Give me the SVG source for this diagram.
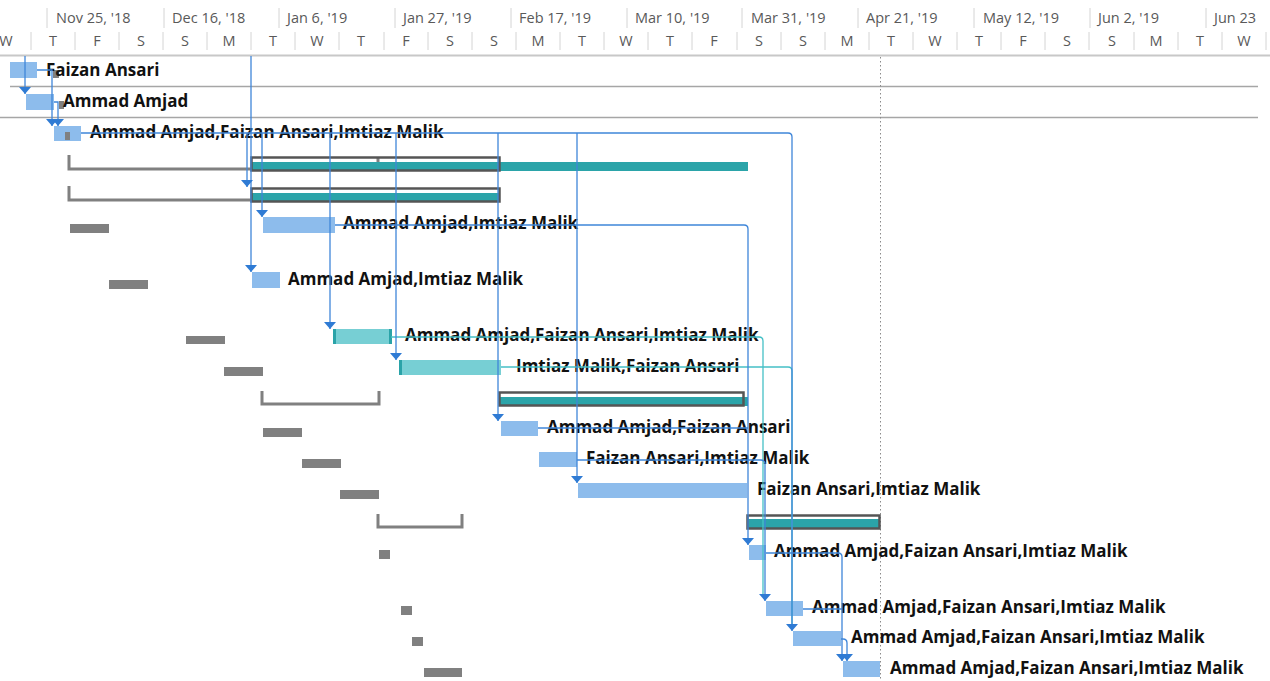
<svg xmlns="http://www.w3.org/2000/svg" width="1270" height="681" viewBox="0 0 1270 681">
  <style>
    .hdr { font-family: "Open Sans", "Liberation Sans", sans-serif; font-size: 14.5px; fill: #595959; }
    .day { text-anchor: middle; }
    .tick { stroke: #d4d4d4; stroke-width: 1; }
    .rowline { stroke: #a6a6a6; stroke-width: 1.5; }
    .lbl { font-family: "Open Sans", "Liberation Sans", sans-serif; font-size: 17px; font-weight: 700; fill: #111; }
    .task { fill: #8dbcec; }
    .crit { fill: #77cfd4; }
    .cap { fill: #2aa3a8; }
    .base { fill: #808080; }
    .sumbar { fill: #2ba4a9; }
    .sumbox { fill: none; stroke: #555; stroke-width: 2.5; }
    .basebr { fill: none; stroke: #808080; stroke-width: 3; }
    .lk { fill: none; stroke: #3f86d9; stroke-width: 1.3; }
    .lkc { fill: none; stroke: #45c0c6; stroke-width: 1.3; }
    .arw { marker-end: url(#arrow); }
  </style>
  <defs>
    <marker id="arrow" viewBox="0 0 7 12" refX="7" refY="6" markerWidth="7" markerHeight="12" markerUnits="userSpaceOnUse" orient="auto">
      <path d="M0,0 L7,6 L0,12 z" fill="#2f7bd4"/>
    </marker>
  </defs>

  <rect width="1270" height="681" fill="#fff"/>

  <!-- timescale -->
  <g id="timescale">
    <g class="tick">
      <line x1="47" y1="8" x2="47" y2="28"/><line x1="164" y1="8" x2="164" y2="28"/>
      <line x1="279" y1="8" x2="279" y2="28"/><line x1="395" y1="8" x2="395" y2="28"/>
      <line x1="511" y1="8" x2="511" y2="28"/><line x1="627" y1="8" x2="627" y2="28"/>
      <line x1="742" y1="8" x2="742" y2="28"/><line x1="858" y1="8" x2="858" y2="28"/>
      <line x1="974" y1="8" x2="974" y2="28"/><line x1="1090" y1="8" x2="1090" y2="28"/>
      <line x1="1206" y1="8" x2="1206" y2="28"/>
    </g>
    <g class="hdr">
      <text x="56" y="23">Nov 25, '18</text>
      <text x="172" y="23">Dec 16, '18</text>
      <text x="287" y="23">Jan 6, '19</text>
      <text x="403" y="23">Jan 27, '19</text>
      <text x="519" y="23">Feb 17, '19</text>
      <text x="635" y="23">Mar 10, '19</text>
      <text x="751" y="23">Mar 31, '19</text>
      <text x="866" y="23">Apr 21, '19</text>
      <text x="983" y="23">May 12, '19</text>
      <text x="1098" y="23">Jun 2, '19</text>
      <text x="1214" y="23">Jun 23</text>
    </g>
    <g class="tick">
      <line x1="31" y1="32" x2="31" y2="50"/><line x1="75" y1="32" x2="75" y2="50"/>
      <line x1="119" y1="32" x2="119" y2="50"/><line x1="163" y1="32" x2="163" y2="50"/>
      <line x1="207" y1="32" x2="207" y2="50"/><line x1="251" y1="32" x2="251" y2="50"/>
      <line x1="295" y1="32" x2="295" y2="50"/><line x1="339" y1="32" x2="339" y2="50"/>
      <line x1="384" y1="32" x2="384" y2="50"/><line x1="428" y1="32" x2="428" y2="50"/>
      <line x1="472" y1="32" x2="472" y2="50"/><line x1="516" y1="32" x2="516" y2="50"/>
      <line x1="560" y1="32" x2="560" y2="50"/><line x1="604" y1="32" x2="604" y2="50"/>
      <line x1="648" y1="32" x2="648" y2="50"/><line x1="692" y1="32" x2="692" y2="50"/>
      <line x1="737" y1="32" x2="737" y2="50"/><line x1="781" y1="32" x2="781" y2="50"/>
      <line x1="825" y1="32" x2="825" y2="50"/><line x1="869" y1="32" x2="869" y2="50"/>
      <line x1="913" y1="32" x2="913" y2="50"/><line x1="957" y1="32" x2="957" y2="50"/>
      <line x1="1001" y1="32" x2="1001" y2="50"/><line x1="1045" y1="32" x2="1045" y2="50"/>
      <line x1="1089" y1="32" x2="1089" y2="50"/><line x1="1134" y1="32" x2="1134" y2="50"/>
      <line x1="1178" y1="32" x2="1178" y2="50"/><line x1="1222" y1="32" x2="1222" y2="50"/>
      <line x1="1266" y1="32" x2="1266" y2="50"/>
    </g>
    <g class="hdr day">
      <text x="6" y="46">W</text>
      <text x="53" y="46">T</text><text x="97" y="46">F</text><text x="141" y="46">S</text>
      <text x="185" y="46">S</text><text x="229" y="46">M</text><text x="273" y="46">T</text>
      <text x="317" y="46">W</text><text x="361" y="46">T</text><text x="406" y="46">F</text>
      <text x="450" y="46">S</text><text x="494" y="46">S</text><text x="538" y="46">M</text>
      <text x="582" y="46">T</text><text x="626" y="46">W</text><text x="670" y="46">T</text>
      <text x="714" y="46">F</text><text x="759" y="46">S</text><text x="803" y="46">S</text>
      <text x="847" y="46">M</text><text x="891" y="46">T</text><text x="935" y="46">W</text>
      <text x="979" y="46">T</text><text x="1023" y="46">F</text><text x="1067" y="46">S</text>
      <text x="1112" y="46">S</text><text x="1156" y="46">M</text><text x="1200" y="46">T</text>
      <text x="1244" y="46">W</text>
    </g>
    <line x1="0" y1="55.5" x2="1270" y2="55.5" stroke="#c8c8c8" stroke-width="2"/>
  </g>

  <!-- grid -->
  <g id="grid">
    <line class="rowline" x1="10" y1="86.5" x2="1258" y2="86.5"/>
    <line class="rowline" x1="0" y1="117.5" x2="1258" y2="117.5"/>
    <line x1="880.5" y1="57" x2="880.5" y2="681" stroke="#8a8a8a" stroke-width="1" stroke-dasharray="1.5 2.5"/>
  </g>

  <!-- tasks -->
  <g id="task-1">
    <rect class="task" x="10" y="62" width="27" height="16"/>
    <rect class="base" x="53" y="70" width="6" height="8"/>
    <text class="lbl" x="46" y="76">Faizan Ansari</text>
  </g>
  <g id="task-2">
    <rect class="task" x="26" y="94" width="28" height="16"/>
    <rect class="base" x="59" y="101" width="5" height="8"/>
    <text class="lbl" x="63" y="107">Ammad Amjad</text>
  </g>
  <g id="task-3">
    <rect class="task" x="54" y="126" width="27" height="15"/>
    <rect class="base" x="65" y="132" width="5" height="8"/>
    <text class="lbl" x="90" y="138">Ammad Amjad,Faizan Ansari,Imtiaz Malik</text>
  </g>
  <g id="summary-4">
    <path class="basebr" d="M69,155 V169 H378 V157"/>
    <rect class="sumbar" x="251" y="162" width="497" height="9"/>
    <rect class="sumbox" x="251.5" y="157.5" width="248" height="13"/>
  </g>
  <g id="summary-5">
    <path class="basebr" d="M69,186 V200 H251"/>
    <rect class="sumbar" x="251" y="193" width="249" height="9"/>
    <rect class="sumbox" x="251.5" y="188.5" width="248" height="13"/>
  </g>
  <g id="task-6">
    <rect class="task" x="263" y="217" width="72" height="16"/>
    <rect class="base" x="70" y="224" width="39" height="9"/>
    <text class="lbl" x="343" y="229">Ammad Amjad,Imtiaz Malik</text>
  </g>
  <g id="task-7">
    <rect class="task" x="252" y="272" width="28" height="16"/>
    <rect class="base" x="109" y="280" width="39" height="9"/>
    <text class="lbl" x="288" y="285">Ammad Amjad,Imtiaz Malik</text>
  </g>
  <g id="task-8">
    <rect class="crit" x="333" y="329" width="59" height="15"/>
    <rect class="cap" x="333" y="329" width="3" height="15"/>
    <rect class="cap" x="389" y="329" width="3" height="15"/>
    <rect class="base" x="186" y="336" width="39" height="8"/>
    <text class="lbl" x="405" y="341">Ammad Amjad,Faizan Ansari,Imtiaz Malik</text>
  </g>
  <g id="task-9">
    <rect class="crit" x="399" y="360" width="102" height="15"/>
    <rect class="cap" x="399" y="360" width="3" height="15"/>
    <rect class="base" x="224" y="367" width="39" height="9"/>
    <text class="lbl" x="516" y="372">Imtiaz Malik,Faizan Ansari</text>
  </g>
  <g id="summary-10">
    <path class="basebr" d="M262,391 V404 H379 V391"/>
    <rect class="sumbar" x="499" y="397" width="249" height="9"/>
    <rect class="sumbox" x="499.5" y="392.5" width="244" height="13"/>
  </g>
  <g id="task-11">
    <rect class="task" x="501" y="421" width="37" height="15"/>
    <rect class="base" x="263" y="428" width="39" height="9"/>
    <text class="lbl" x="547" y="433">Ammad Amjad,Faizan Ansari</text>
  </g>
  <g id="task-12">
    <rect class="task" x="539" y="452" width="38" height="15"/>
    <rect class="base" x="302" y="459" width="39" height="9"/>
    <text class="lbl" x="586" y="464">Faizan Ansari,Imtiaz Malik</text>
  </g>
  <g id="task-13">
    <rect class="task" x="578" y="483" width="169" height="15"/>
    <rect class="base" x="340" y="490" width="39" height="9"/>
    <text class="lbl" x="757" y="495">Faizan Ansari,Imtiaz Malik</text>
  </g>
  <g id="summary-14">
    <path class="basebr" d="M378,514 V527 H462 V514"/>
    <rect class="sumbar" x="748" y="519" width="132" height="10"/>
    <rect class="sumbox" x="747.5" y="515.5" width="132" height="13"/>
  </g>
  <g id="task-15">
    <rect class="task" x="749" y="545" width="17" height="15"/>
    <rect class="base" x="379" y="550" width="11" height="9"/>
    <text class="lbl" x="774" y="557">Ammad Amjad,Faizan Ansari,Imtiaz Malik</text>
  </g>
  <g id="task-16">
    <rect class="task" x="766" y="601" width="37" height="15"/>
    <rect class="base" x="401" y="606" width="11" height="9"/>
    <text class="lbl" x="812" y="613">Ammad Amjad,Faizan Ansari,Imtiaz Malik</text>
  </g>
  <g id="task-17">
    <rect class="task" x="793" y="631" width="48" height="15"/>
    <rect class="base" x="412" y="637" width="11" height="9"/>
    <text class="lbl" x="851" y="643">Ammad Amjad,Faizan Ansari,Imtiaz Malik</text>
  </g>
  <g id="task-18">
    <rect class="task" x="843" y="661" width="37" height="16"/>
    <rect class="base" x="424" y="668" width="38" height="9"/>
    <text class="lbl" x="890" y="674">Ammad Amjad,Faizan Ansari,Imtiaz Malik</text>
  </g>

  <!-- dependency links -->
  <g id="links">
    <path class="lkc" d="M391,337 H759 Q763,337 763,341 V596"/>
    <path class="lkc" d="M501,367 H788 Q792,367 792,371 V626"/>
    <path class="lk arw" d="M25,56 V94"/>
    <path class="lk arw" d="M37,70 H52 V126"/>
    <path class="lk arw" d="M54,102 H58 V126"/>
    <path class="lk arw" d="M251,56 V272"/>
    <path class="lk arw" d="M81,133 H788 Q792,133 792,137 V631"/>
    <path class="lk arw" d="M247,133 V187"/>
    <path class="lk arw" d="M262,133 V217"/>
    <path class="lk arw" d="M330,133 V329"/>
    <path class="lk arw" d="M396,133 V360"/>
    <path class="lk arw" d="M498,133 V421"/>
    <path class="lk arw" d="M577,133 V483"/>
    <path class="lk arw" d="M335,225 H744 Q748,225 748,229 V545"/>
    <path class="lk" d="M538,428 H748"/>
    <path class="lk arw" d="M577,460 H761 Q765,460 765,464 V601"/>
    <path class="lk arw" d="M766,553 H838 Q842,553 842,557 V661"/>
    <path class="lk" d="M803,609 H842"/>
    <path class="lk arw" d="M841,639 H843 Q847,639 847,643 V661"/>
  </g>
</svg>
